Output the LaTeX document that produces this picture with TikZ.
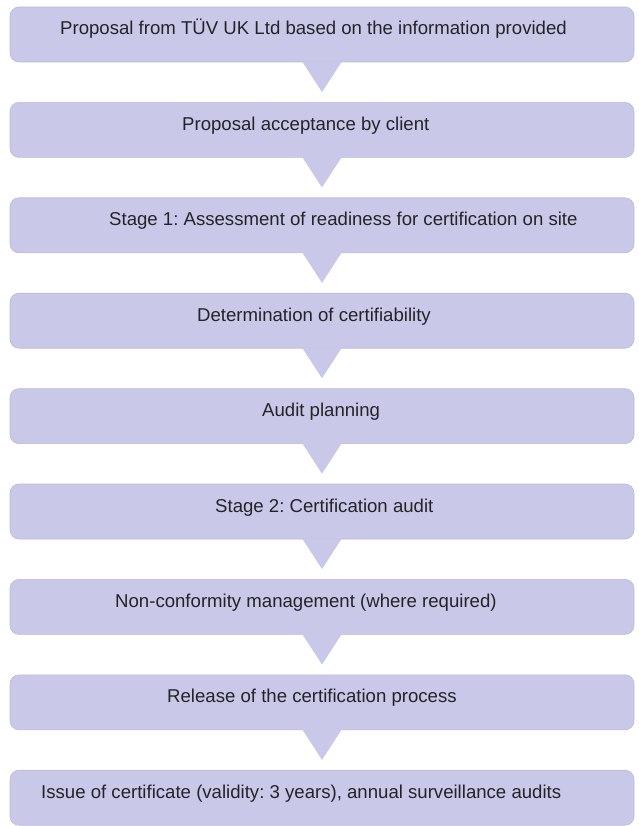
\documentclass[tikz,border=0pt]{standalone}
\usepackage{fontspec}
\setmainfont{Liberation Sans}
\definecolor{boxfill}{RGB}{201,200,232}
\definecolor{boxtext}{RGB}{35,35,40}
\frenchspacing

\begin{document}
\begin{tikzpicture}[x=1pt, y=-1pt,
        stagebox/.style={fill=boxfill, draw=boxfill!93!black, line width=0.6pt, rounded corners=9pt, minimum width=624pt, minimum height=55pt, inner sep=0pt},
        stagetext/.style={anchor=base west, text=boxtext, font=\fontsize{18.6}{22}\selectfont, inner sep=0pt},
        pointer/.style={fill=boxfill}]
                \useasboundingbox (0,0) rectangle (638,826);
                \node[stagebox] (b1) at (322,34.5) {};
                \node[stagebox] (b2) at (322,129.9) {};
                \node[stagebox] (b3) at (322,225.3) {};
                \node[stagebox] (b4) at (322,320.7) {};
                \node[stagebox] (b5) at (322,416.1) {};
                \node[stagebox] (b6) at (322,511.5) {};
                \node[stagebox] (b7) at (322,606.9) {};
                \node[stagebox] (b8) at (322,702.3) {};
                \node[stagebox] (b9) at (322,797.7) {};
                \node[stagetext] (t1) at (60,35) {Proposal from TÜV UK Ltd based on the information provided};
                \node[stagetext] (t2) at (182,130.4) {Proposal acceptance by client};
                \node[stagetext] (t3) at (109,225.8) {Stage 1: Assessment of readiness for certification on site};
                \node[stagetext] (t4) at (197,321.2) {Determination of certifiability};
                \node[stagetext] (t5) at (262,416.6) {Audit planning};
                \node[stagetext] (t6) at (215,512) {Stage 2: Certification audit};
                \node[stagetext] (t7) at (115,607.4) {Non-conformity management (where required)};
                \node[stagetext] (t8) at (167,702.8) {Release of the certification process};
                \node[stagetext] (t9) at (41,798.2) {Issue of certificate (validity: 3 years), annual surveillance audits};
                \fill[pointer] ([xshift=-20pt,yshift=1pt]b1.south) -- ([xshift=20pt,yshift=1pt]b1.south) -- ([yshift=10pt]b2.north) -- cycle;
                \fill[pointer] ([xshift=-20pt,yshift=1pt]b2.south) -- ([xshift=20pt,yshift=1pt]b2.south) -- ([yshift=10pt]b3.north) -- cycle;
                \fill[pointer] ([xshift=-20pt,yshift=1pt]b3.south) -- ([xshift=20pt,yshift=1pt]b3.south) -- ([yshift=10pt]b4.north) -- cycle;
                \fill[pointer] ([xshift=-20pt,yshift=1pt]b4.south) -- ([xshift=20pt,yshift=1pt]b4.south) -- ([yshift=10pt]b5.north) -- cycle;
                \fill[pointer] ([xshift=-20pt,yshift=1pt]b5.south) -- ([xshift=20pt,yshift=1pt]b5.south) -- ([yshift=10pt]b6.north) -- cycle;
                \fill[pointer] ([xshift=-20pt,yshift=1pt]b6.south) -- ([xshift=20pt,yshift=1pt]b6.south) -- ([yshift=10pt]b7.north) -- cycle;
                \fill[pointer] ([xshift=-20pt,yshift=1pt]b7.south) -- ([xshift=20pt,yshift=1pt]b7.south) -- ([yshift=10pt]b8.north) -- cycle;
                \fill[pointer] ([xshift=-20pt,yshift=1pt]b8.south) -- ([xshift=20pt,yshift=1pt]b8.south) -- ([yshift=10pt]b9.north) -- cycle;
            \end{tikzpicture}
\end{document}
